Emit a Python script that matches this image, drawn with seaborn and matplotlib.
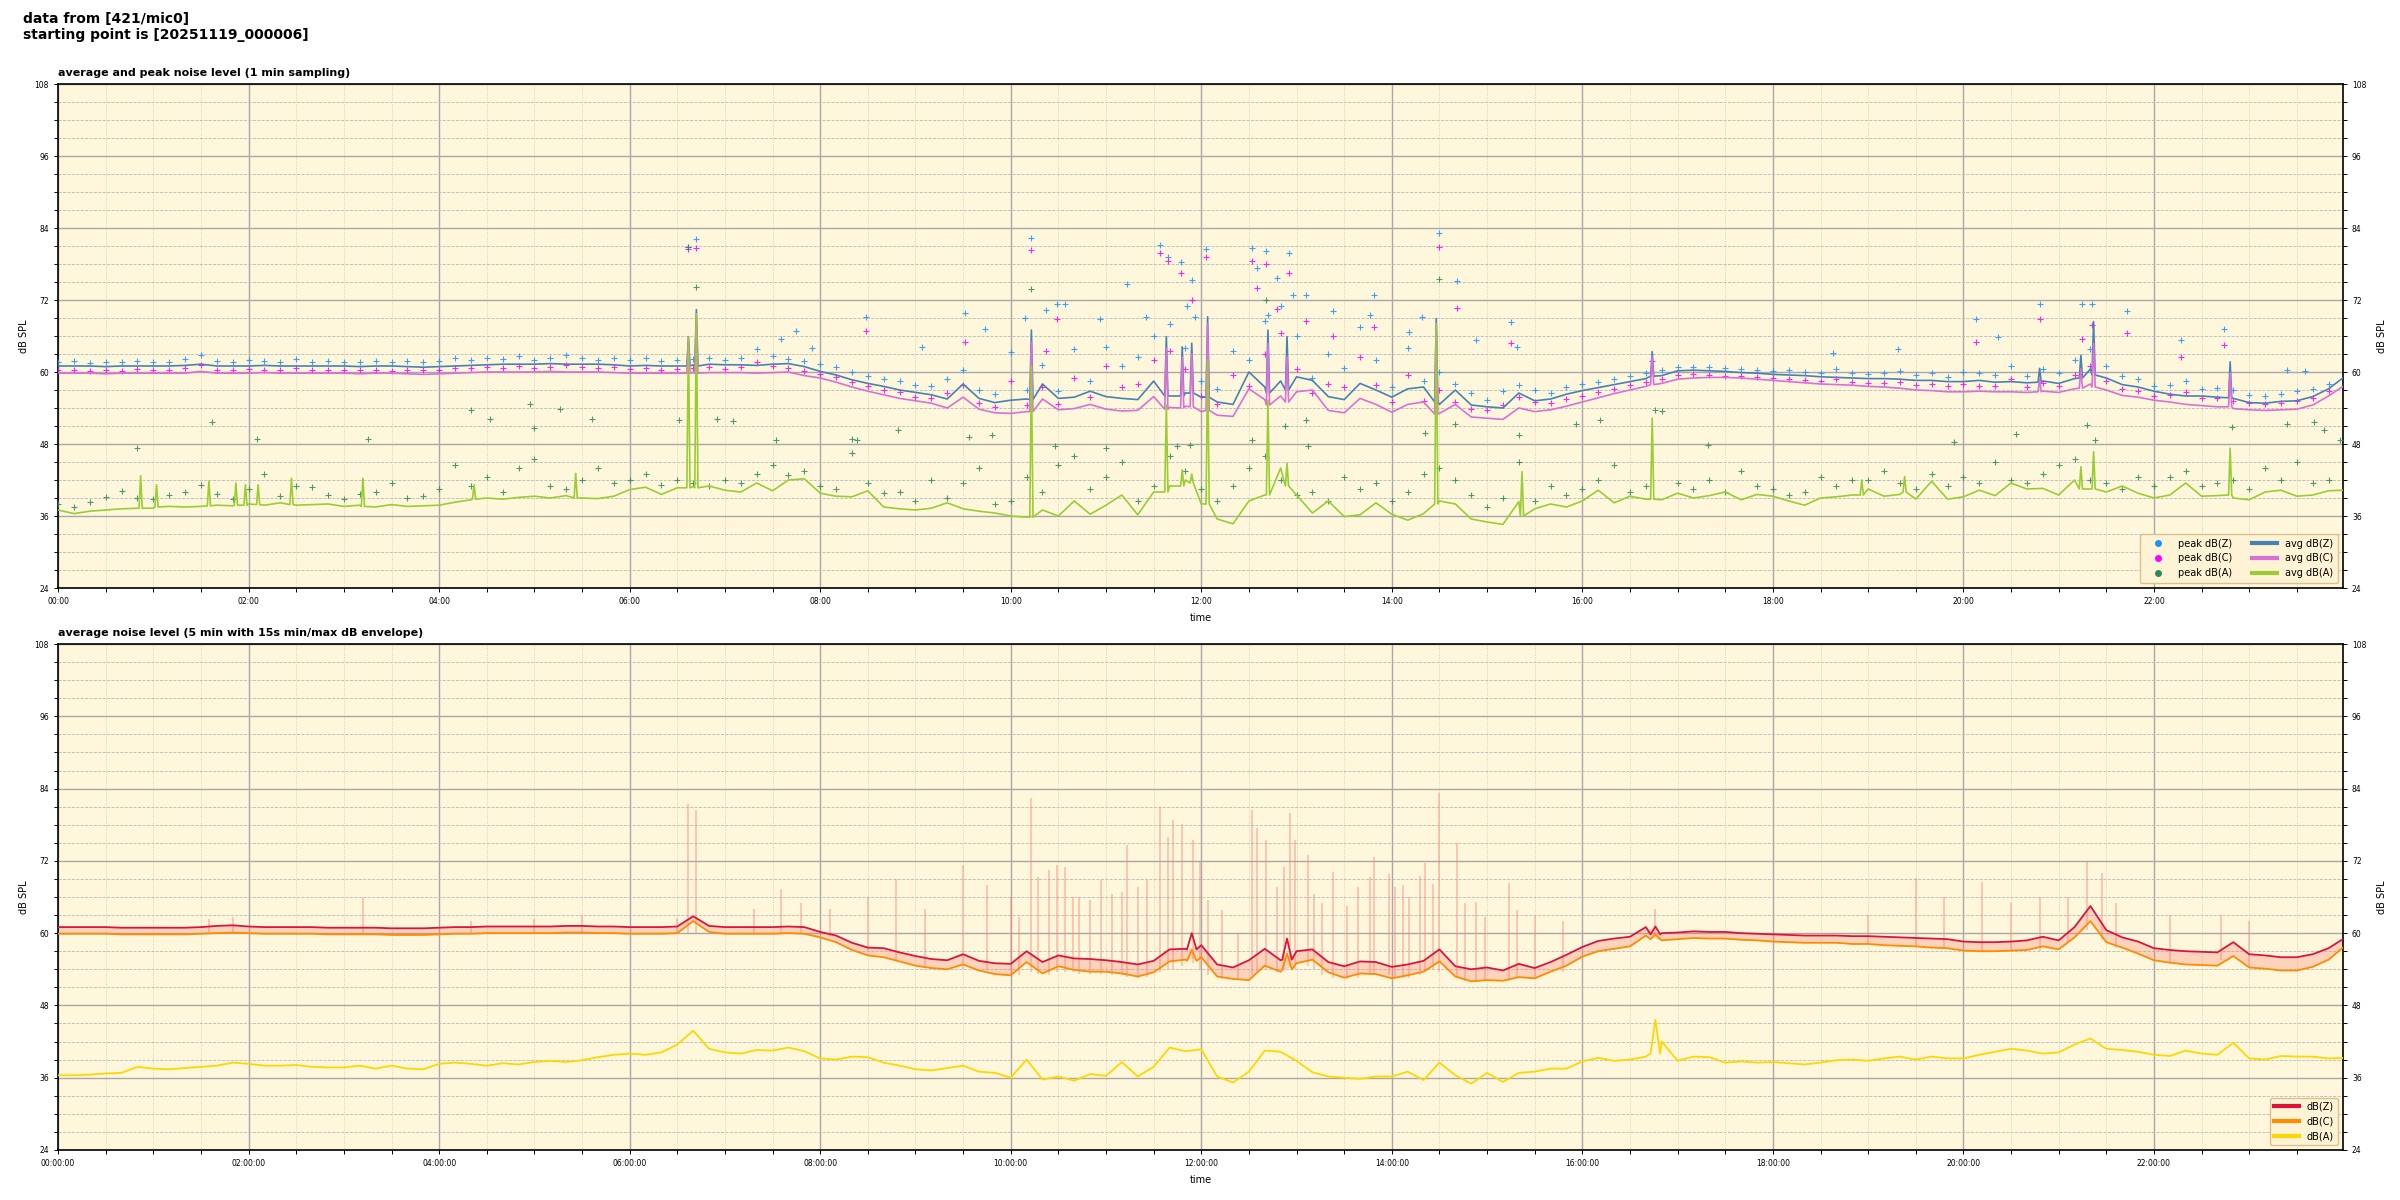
import numpy as np
import pandas as pd
import matplotlib
matplotlib.use('Agg')
import matplotlib.pyplot as plt
from matplotlib.ticker import MultipleLocator, FixedLocator, FuncFormatter
from matplotlib.lines import Line2D
from matplotlib.transforms import offset_copy
import seaborn as sns

# sampling grid: one reading every 10 minutes, one row per hour (00..23)
grid_min = np.arange(0, 1440, 10)
end_min = 1439

# ---------- top chart: 1 min averages ----------
avg_z = [
    61.0, 61.0, 61.0, 60.9, 61.0, 61.0,
    61.0, 61.0, 61.1, 61.3, 61.0, 61.0,
    61.0, 61.1, 61.0, 61.0, 61.0, 61.0,
    61.0, 60.9, 61.0, 61.0, 60.9, 60.8,
    60.9, 61.0, 61.1, 61.2, 61.3, 61.3,
    61.3, 61.4, 61.3, 61.3, 61.3, 61.2,
    61.0, 61.1, 61.0, 61.0, 61.2, 61.3,
    61.2, 61.2, 61.1, 61.3, 61.4, 60.9,
    60.1, 59.5, 58.7, 58.1, 57.6, 57.0,
    56.6, 56.2, 55.5, 58.0, 55.6, 54.9,
    55.3, 55.5, 58.0, 55.6, 55.8, 56.8,
    55.9, 55.6, 55.4, 58.5, 56.0, 56.5,
    55.8, 55.0, 54.6, 60.0, 57.5, 58.5,
    59.2, 58.6, 55.9, 55.4, 58.1, 57.0,
    55.8, 57.2, 57.5, 54.6, 57.0, 54.5,
    54.2, 54.0, 56.5, 55.2, 55.5, 56.3,
    56.9, 57.4, 57.9, 58.4, 58.9, 59.4,
    60.2, 60.3, 60.2, 60.1, 59.9, 59.8,
    59.6, 59.5, 59.4, 59.2, 59.1, 59.0,
    58.9, 58.9, 58.8, 58.6, 58.6, 58.4,
    58.4, 58.6, 58.3, 58.4, 58.2, 58.5,
    58.1, 58.9, 60.5, 59.0, 57.9, 57.5,
    56.8, 56.3, 56.0, 56.0, 55.8, 55.6,
    54.9, 54.8, 55.1, 55.2, 55.9, 57.2,
]
avg_c = [
    59.8, 59.8, 59.8, 59.7, 59.8, 59.8,
    59.8, 59.8, 59.8, 60.1, 59.8, 59.8,
    59.8, 59.9, 59.8, 59.8, 59.8, 59.8,
    59.8, 59.7, 59.8, 59.8, 59.7, 59.6,
    59.7, 59.8, 59.9, 60.0, 60.0, 60.0,
    60.0, 60.1, 60.0, 60.0, 60.0, 59.9,
    59.8, 59.8, 59.8, 59.8, 59.9, 59.9,
    59.9, 59.9, 59.8, 59.9, 60.0, 59.4,
    59.0, 58.3, 57.5, 56.8, 56.2, 55.6,
    55.2, 54.8, 54.0, 55.8, 53.8, 53.2,
    53.1, 53.4, 55.5, 53.7, 53.9, 54.6,
    53.8, 53.5, 53.6, 55.9, 54.1, 54.3,
    53.4, 52.8, 52.6, 57.2, 55.4, 56.0,
    56.7, 57.0, 53.6, 53.2, 55.6, 54.6,
    53.3, 54.6, 55.0, 53.1, 54.6, 52.5,
    52.3, 52.1, 54.0, 53.4, 53.7, 54.3,
    55.0, 55.7, 56.4, 57.0, 57.6, 58.1,
    58.8, 59.0, 59.1, 59.1, 59.0, 58.8,
    58.6, 58.4, 58.2, 58.0, 57.9, 57.8,
    57.6, 57.5, 57.3, 57.0, 56.9, 56.7,
    56.7, 56.8, 56.7, 56.7, 56.6, 56.8,
    56.6, 57.2, 58.0, 57.0, 56.1, 55.8,
    55.3, 55.0, 54.6, 54.4, 54.2, 53.9,
    53.7, 53.6, 53.7, 53.8, 54.5, 56.0,
]
avg_a = [
    37.0, 36.4, 36.8, 37.0, 37.2, 37.3,
    37.3, 37.6, 37.5, 37.6, 37.8, 37.7,
    38.0, 37.8, 38.2, 37.8, 37.9, 38.0,
    37.6, 37.8, 37.5, 37.9, 37.6, 37.7,
    37.8, 38.3, 38.7, 39.0, 38.8, 39.1,
    39.3, 39.0, 39.4, 39.0, 38.9, 39.3,
    40.4, 40.8, 39.6, 40.7, 40.9, 41.0,
    40.3, 40.0, 41.5, 40.2, 42.0, 42.2,
    39.8, 39.3, 39.2, 40.2, 37.5, 37.2,
    37.0, 37.3, 38.2, 37.2, 36.8, 36.5,
    36.0, 35.8, 37.0, 36.0, 38.5, 36.3,
    37.8, 39.5, 36.2, 40.0, 41.0, 42.0,
    38.0, 35.5, 34.7, 38.5, 39.5, 44.0,
    39.5, 36.5, 38.5, 35.9, 36.2, 38.2,
    36.3, 35.3, 36.4, 38.5, 38.0, 35.5,
    35.0, 34.6, 38.4, 37.2, 38.0, 37.5,
    38.5, 40.3, 38.2, 39.3, 38.8, 38.7,
    39.8, 39.0, 39.4, 40.0, 38.7, 39.6,
    39.3, 38.5, 37.8, 39.0, 39.2, 39.5,
    40.5, 39.3, 39.6, 38.8, 41.8, 38.8,
    39.2, 40.3, 39.4, 41.5, 40.5, 40.6,
    39.5, 42.0, 40.5, 40.0, 41.0, 39.8,
    39.0, 39.5, 41.5, 39.3, 39.4, 39.0,
    38.7, 40.0, 40.3, 39.3, 39.5, 40.2,
]
avg_last = [59.0, 57.6, 40.3]

# short bursts in the 1 min averages: (minute, level around, burst level)
spikes_z = [(397, 61.0, 65.9), (402, 61.0, 70.4), (613, 55.4, 67.0), (698, 56.0, 65.9),
            (708, 56.0, 64.2), (714, 56.5, 64.8), (724, 55.8, 69.2), (762, 56.5, 67.0),
            (774, 57.0, 65.9), (868, 55.0, 68.9), (1004, 59.3, 63.4), (1248, 58.3, 60.6),
            (1274, 59.0, 62.8), (1282, 59.5, 68.4), (1368, 55.7, 61.7)]
spikes_c = [(397, 59.8, 65.3), (402, 59.8, 69.2), (613, 53.4, 65.0), (698, 53.8, 64.0),
            (708, 54.0, 62.5), (714, 54.2, 63.0), (724, 53.6, 68.0), (762, 54.5, 64.8),
            (774, 55.0, 62.6), (868, 53.0, 68.1), (1004, 57.9, 62.6), (1248, 56.7, 58.8),
            (1274, 57.3, 60.5), (1282, 57.5, 64.8), (1368, 54.2, 59.8)]
spikes_a = [(52, 37.3, 42.7), (62, 37.5, 41.2), (95, 37.7, 41.8), (112, 37.8, 41.5),
            (118, 37.8, 41.2), (126, 37.9, 41.2), (147, 37.9, 42.3), (192, 37.6, 42.3),
            (262, 38.8, 41.2), (326, 39.0, 43.1), (397, 40.7, 65.8), (402, 40.7, 69.7),
            (613, 35.8, 61.0), (698, 40.0, 54.5), (708, 41.0, 43.7), (714, 41.5, 43.0),
            (724, 38.0, 62.0), (762, 39.5, 55.3), (774, 41.0, 44.8), (868, 38.0, 68.0),
            (922, 36.0, 43.4), (1004, 38.8, 52.3), (1136, 39.5, 42.0), (1163, 40.0, 42.6),
            (1274, 40.5, 44.2), (1282, 40.5, 46.7), (1368, 39.5, 47.3)]

# 1 min peaks
peak_z = [
    61.6, 61.8, 61.5, 61.7, 61.6, 61.9,
    61.6, 61.7, 62.2, 62.8, 61.8, 61.7,
    62.0, 61.8, 61.7, 62.1, 61.7, 61.8,
    61.6, 61.7, 61.8, 61.6, 61.8, 61.7,
    61.8, 62.3, 62.0, 62.4, 62.2, 62.6,
    62.0, 62.4, 62.8, 62.3, 62.0, 62.4,
    62.0, 62.3, 61.9, 62.0, 62.2, 62.4,
    62.0, 62.3, 63.8, 62.6, 62.1, 61.8,
    61.3, 60.9, 60.0, 59.4, 58.9, 58.5,
    57.8, 57.6, 58.9, 60.4, 57.0, 56.4,
    63.4, 57.0, 61.2, 56.8, 63.9, 58.5,
    64.2, 61.0, 62.5, 66.0, 68.0, 64.0,
    58.5, 57.2, 63.5, 62.0, 68.5, 71.0,
    66.0, 59.0, 63.0, 60.7, 67.5, 62.0,
    57.5, 64.0, 58.5, 60.0, 58.0, 56.5,
    55.3, 56.8, 57.8, 57.0, 56.5, 57.5,
    58.0, 58.3, 58.8, 59.3, 59.8, 60.3,
    60.8, 60.9, 60.8, 60.6, 60.5, 60.4,
    60.2, 60.3, 60.0, 59.9, 60.5, 59.8,
    59.7, 59.9, 60.1, 59.5, 59.9, 59.2,
    60.0, 59.8, 59.5, 61.0, 59.4, 60.5,
    59.8, 62.0, 63.8, 61.0, 59.4, 58.9,
    57.6, 57.9, 58.5, 57.1, 57.4, 57.0,
    56.2, 56.0, 56.3, 56.8, 57.1, 58.0,
]
peak_c = [
    60.3, 60.4, 60.2, 60.3, 60.2, 60.5,
    60.3, 60.4, 60.7, 61.2, 60.4, 60.3,
    60.5, 60.4, 60.3, 60.6, 60.3, 60.4,
    60.3, 60.3, 60.4, 60.2, 60.4, 60.3,
    60.4, 60.7, 60.6, 60.9, 60.7, 61.0,
    60.6, 60.9, 61.2, 60.8, 60.6, 60.9,
    60.5, 60.7, 60.4, 60.5, 60.7, 60.8,
    60.5, 60.8, 61.6, 61.0, 60.6, 60.2,
    59.7, 59.1, 58.3, 57.6, 57.0, 56.6,
    55.9, 55.6, 56.5, 57.8, 54.8, 54.2,
    58.5, 54.5, 57.5, 54.6, 59.0, 55.8,
    61.0, 57.5, 58.0, 62.0, 63.5, 60.5,
    56.0, 54.6, 59.5, 57.6, 63.0, 66.5,
    60.5, 56.5, 58.0, 57.5, 62.5, 57.8,
    55.0, 59.5, 55.2, 57.0, 55.0, 53.8,
    53.6, 54.5, 55.8, 55.0, 54.8, 55.5,
    56.0, 56.6, 57.2, 57.8, 58.4, 58.9,
    59.5, 59.6, 59.5, 59.4, 59.3, 59.1,
    59.0, 58.8, 58.6, 58.5, 58.8, 58.3,
    58.1, 58.2, 58.3, 57.8, 58.0, 57.6,
    58.0, 57.7, 57.6, 58.8, 57.5, 58.2,
    57.6, 59.5, 61.0, 58.5, 57.2, 56.8,
    56.0, 56.2, 56.6, 55.6, 55.6, 55.2,
    54.8, 54.7, 54.9, 55.2, 55.6, 56.8,
]
peak_a = [
    38.0, 37.5, 38.4, 39.2, 40.2, 39.0,
    38.8, 39.5, 40.0, 41.2, 39.6, 38.9,
    40.5, 43.0, 39.4, 41.0, 40.8, 39.5,
    38.9, 39.6, 40.0, 41.5, 39.0, 39.4,
    40.5, 44.5, 41.0, 42.5, 40.0, 44.0,
    45.5, 41.0, 40.5, 42.0, 44.0, 41.5,
    42.0, 43.0, 41.2, 42.0, 41.5, 41.0,
    42.0, 41.5, 43.0, 44.5, 42.8, 43.5,
    41.0, 40.5, 46.5, 41.5, 39.8, 40.0,
    38.5, 42.0, 39.0, 41.5, 44.0, 38.0,
    38.5, 42.5, 40.0, 44.5, 46.0, 40.5,
    42.5, 45.0, 38.5, 41.0, 46.0, 43.5,
    40.5, 38.5, 41.0, 44.0, 46.0, 42.0,
    39.5, 40.0, 38.5, 42.5, 40.5, 41.5,
    38.5, 40.0, 43.0, 44.0, 42.0, 39.5,
    37.5, 39.0, 45.0, 38.5, 41.0, 39.5,
    40.5, 42.0, 44.5, 40.0, 41.0, 53.5,
    41.5, 40.5, 42.0, 40.0, 43.5, 41.0,
    40.5, 39.5, 40.0, 42.5, 41.0, 42.0,
    42.0, 43.5, 41.5, 40.5, 43.0, 41.0,
    42.5, 41.5, 45.0, 42.0, 41.5, 43.0,
    44.5, 45.5, 42.0, 41.5, 40.5, 42.5,
    41.0, 42.5, 43.5, 41.0, 41.5, 42.0,
    40.5, 44.0, 42.0, 45.0, 41.5, 42.0,
]
# single loud peaks (minute, dB)
peak_z_out = [(397, 80.9), (402, 82.1), (455, 65.5), (465, 66.8), (475, 64.0), (509, 69.2),
              (544, 64.1), (571, 69.8), (584, 67.1), (609, 69.0), (613, 82.4), (622, 70.3),
              (629, 71.3), (634, 71.3), (656, 68.9), (673, 74.6), (685, 69.1), (694, 81.2),
              (699, 79.1), (707, 78.3), (711, 71.0), (714, 75.4), (716, 69.2), (723, 80.5),
              (752, 80.6), (755, 77.3), (761, 80.2), (762, 69.5), (768, 75.6), (775, 79.8),
              (778, 72.8), (786, 72.8), (803, 70.1), (826, 69.5), (829, 72.8), (851, 66.6),
              (859, 69.2), (870, 83.1), (881, 75.1), (893, 65.4), (915, 68.4), (919, 64.2),
              (1118, 63.1), (1159, 63.8), (1208, 68.9), (1222, 65.9), (1248, 71.4),
              (1275, 71.4), (1281, 71.4), (1303, 70.2), (1337, 65.3), (1364, 67.2),
              (1404, 60.4), (1415, 60.1)]
peak_c_out = [(397, 80.5), (402, 80.7), (509, 66.8), (571, 65.0), (613, 80.4), (622, 63.5),
              (629, 68.9), (694, 79.8), (699, 78.5), (707, 76.5), (714, 72.0), (723, 79.2),
              (752, 78.5), (755, 74.0), (761, 78.0), (768, 70.5), (775, 76.5), (786, 68.5),
              (803, 66.0), (829, 67.5), (870, 80.9), (881, 70.6), (915, 64.8), (1004, 61.8),
              (1208, 65.0), (1248, 68.9), (1275, 65.5), (1281, 67.8), (1303, 66.5),
              (1337, 62.5), (1364, 64.5)]
peak_a_out = [(50, 47.4), (97, 51.6), (125, 48.8), (195, 48.8), (260, 53.7), (272, 52.1),
              (297, 54.7), (300, 50.7), (316, 53.9), (336, 52.1), (391, 52.0), (397, 80.9),
              (402, 74.2), (415, 52.1), (425, 51.8), (452, 48.7), (500, 48.8), (503, 48.7),
              (529, 50.3), (574, 49.1), (588, 49.5), (613, 73.9), (628, 47.6), (660, 47.3),
              (705, 47.7), (713, 47.8), (752, 48.7), (761, 72.0), (773, 51.0), (786, 52.0),
              (787, 47.6), (861, 49.8), (870, 75.5), (880, 51.4), (920, 49.5), (956, 51.4),
              (971, 52.0), (1006, 53.7), (1039, 47.8), (1194, 48.3), (1233, 49.6),
              (1278, 51.2), (1283, 48.7), (1369, 50.9), (1404, 51.4), (1421, 51.7),
              (1427, 50.3), (1437, 48.7)]

# ---------- bottom chart: 5 min averages ----------
bot_z = [
    61.0, 61.0, 61.0, 61.0, 60.9, 60.9,
    60.9, 60.9, 60.9, 61.0, 61.2, 61.3,
    61.1, 61.0, 61.0, 61.0, 61.0, 60.9,
    60.9, 60.9, 60.9, 60.8, 60.8, 60.8,
    60.9, 61.0, 61.0, 61.1, 61.1, 61.1,
    61.1, 61.1, 61.2, 61.2, 61.1, 61.1,
    61.0, 61.0, 61.0, 61.1, 62.8, 61.2,
    61.0, 61.0, 61.0, 61.0, 61.1, 61.0,
    60.2, 59.6, 58.4, 57.6, 57.5, 56.8,
    56.2, 55.7, 55.5, 56.5, 55.4, 55.0,
    54.9, 57.0, 55.2, 56.3, 55.8, 55.7,
    55.5, 55.2, 54.8, 55.4, 57.3, 57.4,
    58.0, 54.8, 54.3, 55.5, 57.4, 55.5,
    57.0, 57.3, 55.2, 54.5, 55.3, 55.2,
    54.4, 54.8, 55.4, 57.3, 54.5, 54.0,
    54.3, 53.8, 54.9, 54.2, 55.2, 56.4,
    57.7, 58.7, 59.1, 59.4, 61.0, 60.0,
    60.1, 60.3, 60.2, 60.2, 60.0, 59.9,
    59.8, 59.7, 59.6, 59.6, 59.6, 59.5,
    59.5, 59.4, 59.3, 59.2, 59.1, 59.0,
    58.6, 58.5, 58.5, 58.6, 58.8, 59.4,
    58.8, 61.0, 64.5, 60.5, 59.3, 58.6,
    57.5, 57.2, 57.0, 56.9, 56.8, 58.5,
    56.5, 56.3, 56.0, 56.0, 56.5, 57.5,
]
bot_c = [
    59.9, 59.9, 59.9, 59.9, 59.8, 59.8,
    59.8, 59.8, 59.8, 59.9, 60.0, 60.1,
    60.0, 59.9, 59.9, 59.9, 59.9, 59.8,
    59.8, 59.8, 59.8, 59.7, 59.7, 59.7,
    59.8, 59.9, 59.9, 60.0, 60.0, 60.0,
    60.0, 60.0, 60.1, 60.1, 60.0, 60.0,
    59.9, 59.9, 59.9, 60.0, 62.0, 60.2,
    59.9, 59.9, 59.9, 59.9, 60.0, 59.9,
    59.3, 58.5, 57.2, 56.3, 56.0, 55.3,
    54.6, 54.2, 54.0, 54.8, 53.8, 53.2,
    53.0, 55.2, 53.3, 54.5, 53.9, 53.6,
    53.6, 53.3, 52.8, 53.5, 55.3, 55.6,
    56.0, 52.8, 52.4, 52.2, 54.6, 53.6,
    55.0, 55.6, 53.5, 52.6, 53.3, 53.2,
    52.5, 53.0, 53.6, 55.3, 52.8, 52.0,
    52.2, 52.1, 52.7, 52.5, 53.6, 54.6,
    56.1, 57.0, 57.4, 57.8, 59.6, 58.8,
    59.0, 59.2, 59.1, 59.1, 58.9, 58.8,
    58.6, 58.5, 58.4, 58.4, 58.4, 58.2,
    58.2, 58.0, 57.9, 57.8, 57.6, 57.5,
    57.1, 57.0, 57.0, 57.1, 57.2, 57.8,
    57.3, 59.3, 62.0, 58.5, 57.6, 56.6,
    55.5, 55.1, 54.8, 54.7, 54.6, 56.2,
    54.3, 54.1, 53.8, 53.8, 54.4, 55.6,
]
bot_a = [
    36.4, 36.4, 36.5, 36.7, 36.8, 37.8,
    37.5, 37.4, 37.6, 37.8, 38.0, 38.5,
    38.3, 38.0, 38.0, 38.1, 37.8, 37.7,
    37.7, 38.0, 37.5, 38.0, 37.5, 37.4,
    38.3, 38.5, 38.3, 38.0, 38.4, 38.2,
    38.6, 38.8, 38.6, 38.9, 39.4, 39.8,
    40.0, 39.8, 40.2, 41.5, 43.8, 40.8,
    40.2, 40.0, 40.6, 40.5, 41.0, 40.4,
    39.2, 39.0, 39.5, 39.4, 38.5, 38.0,
    37.4, 37.2, 37.6, 38.0, 37.0, 36.8,
    36.0, 39.0, 35.7, 36.2, 35.5, 36.6,
    36.3, 38.6, 36.2, 37.8, 41.0, 40.4,
    40.7, 36.2, 35.2, 37.0, 40.5, 40.3,
    38.8, 36.9, 36.2, 36.0, 35.8, 36.2,
    36.2, 37.0, 35.6, 38.5, 36.4, 35.0,
    36.8, 35.3, 36.8, 37.0, 37.5, 37.5,
    38.7, 39.3, 38.8, 39.0, 39.5, 42.0,
    38.8, 39.5, 39.4, 38.5, 38.7, 38.5,
    38.6, 38.4, 38.2, 38.5, 38.9, 39.0,
    38.8, 39.2, 39.5, 39.0, 39.5, 39.2,
    39.2, 39.8, 40.3, 40.8, 40.5, 40.0,
    40.2, 41.5, 42.5, 40.8, 40.6, 40.3,
    39.8, 39.6, 40.5, 40.0, 39.8, 41.8,
    39.2, 39.0, 39.6, 39.5, 39.5, 39.2,
]
bot_last = [59.0, 57.6, 39.3]
bot_spikes_z = [(714, 57.3, 60.0), (774, 55.6, 59.1), (1006, 59.8, 61.1)]
bot_spikes_c = [(714, 55.4, 57.2), (774, 54.0, 56.6), (1006, 59.0, 59.8)]
bot_spikes_a = [(1006, 40.0, 45.6)]

# 15 s min/max envelope excursions: (minute, low, high)
envelope = [
    (95, 60.0, 62.3), (110, 60.0, 62.6), (192, 59.8, 65.8), (260, 59.9, 62.0), (300, 60.0, 62.3),
    (330, 60.0, 63.0), (390, 59.8, 62.5), (397, 59.9, 81.5), (402, 59.9, 80.5), (438, 59.9, 64.0),
    (455, 59.9, 67.3), (468, 59.9, 65.0), (486, 59.5, 64.0), (510, 57.0, 66.0), (528, 55.5, 69.0),
    (546, 54.2, 64.0), (570, 54.0, 71.3), (585, 53.8, 68.0), (600, 53.0, 66.0), (605, 53.0, 62.7),
    (613, 53.5, 82.4), (617, 53.2, 69.4), (624, 53.0, 70.5), (629, 53.5, 71.3), (634, 53.5, 71.0),
    (639, 53.5, 66.0), (643, 53.2, 66.0), (650, 53.2, 65.5), (657, 53.2, 68.8), (664, 53.0, 66.5),
    (670, 53.0, 66.8), (673, 52.8, 74.6), (680, 52.6, 67.7), (686, 52.8, 68.8), (694, 53.5, 81.0),
    (699, 54.0, 76.0), (702, 54.0, 78.8), (708, 54.5, 78.2), (715, 55.0, 75.5), (719, 54.0, 72.0),
    (724, 53.0, 65.5), (733, 52.4, 63.8), (743, 52.2, 60.0), (752, 53.0, 80.4), (755, 53.5, 77.4),
    (761, 54.0, 75.5), (768, 53.5, 67.7), (772, 54.0, 71.0), (776, 54.5, 79.9), (779, 54.0, 75.5),
    (787, 54.5, 73.0), (791, 54.0, 66.5), (796, 53.0, 65.0), (803, 52.5, 70.2), (812, 52.4, 64.5),
    (819, 52.5, 67.7), (826, 53.0, 69.4), (829, 53.0, 72.7), (838, 53.0, 69.9), (842, 52.5, 67.7),
    (847, 52.5, 68.0), (851, 52.5, 66.0), (858, 53.0, 69.5), (861, 53.5, 71.6), (866, 54.0, 68.2),
    (870, 53.5, 83.2), (881, 52.5, 74.9), (886, 52.0, 65.0), (893, 52.0, 65.2), (899, 52.0, 62.7),
    (914, 52.0, 68.3), (919, 52.5, 63.8), (930, 52.5, 63.0), (948, 53.5, 62.0), (1006, 59.5, 64.0),
    (1140, 58.2, 63.0), (1170, 57.9, 69.1), (1188, 57.6, 66.0), (1212, 57.0, 68.5), (1230, 57.0, 65.0),
    (1248, 57.0, 66.0), (1266, 58.5, 66.0), (1278, 60.5, 72.0), (1287, 59.0, 70.0), (1296, 57.5, 65.0),
    (1330, 55.0, 63.0), (1362, 55.5, 63.0), (1380, 54.3, 62.0),
]


def series(values, last, spikes, half_width):
    t = list(grid_min) + [end_min]
    v = list(values) + [last]
    for ts, base, top in spikes:
        t += [ts - half_width, ts, ts + half_width]
        v += [base, top, base]
    df = pd.DataFrame({'hour': np.array(t) / 60.0, 'db': v})
    return df.sort_values('hour')


def peaks(values, extra):
    t = list(grid_min) + [p[0] for p in extra]
    v = list(values) + [p[1] for p in extra]
    return pd.DataFrame({'hour': np.array(t) / 60.0, 'db': v})


def hm(x, pos):
    m = int(round(x * 60))
    return f'{m // 60:02d}:{m % 60:02d}'


def hms(x, pos):
    return hm(x, pos) + ':00'


def style_axes(ax, fmt, title):
    ax.set_facecolor('#fff7dc')
    ax.set_xlim(0, end_min / 60.0)
    ax.set_ylim(24, 108)
    ax.xaxis.set_major_locator(FixedLocator(np.arange(0, 24, 2)))
    ax.xaxis.set_minor_locator(FixedLocator(np.arange(0, 24, 0.5)))
    ax.xaxis.set_major_formatter(FuncFormatter(fmt))
    ax.yaxis.set_major_locator(FixedLocator(np.arange(24, 109, 12)))
    ax.yaxis.set_minor_locator(FixedLocator(np.arange(24, 109, 3)))
    ax.set_axisbelow(True)
    ax.xaxis.grid(True, which='major', color='#a8a8a8', lw=1.0, ls='-')
    ax.yaxis.grid(True, which='major', color='#a8a8a8', lw=1.0, ls='-')
    ax.xaxis.grid(True, which='minor', color='#cfc6b0', lw=0.6, ls=':')
    ax.yaxis.grid(True, which='minor', color='#b8b8b8', lw=0.6, ls='--')
    ax.tick_params(which='both', labelsize=5.5, length=3, width=0.7, direction='out')
    ax.tick_params(axis='y', which='both', right=True, labelright=True)
    for s in ax.spines.values():
        s.set_linewidth(1.2)
        s.set_color('black')
    ax.set_xlabel('time', fontsize=7, labelpad=5)
    ax.set_ylabel('dB SPL', fontsize=7)
    # right hand copy of the y label
    ax.text(1.0, 0.5, 'dB SPL', fontsize=7, rotation=90, ha='center', va='center',
            transform=offset_copy(ax.transAxes, fig=ax.figure, x=39, y=0, units='dots'))
    ax.set_title(title, loc='left', fontsize=8, fontweight='bold', pad=6)


fig = plt.figure(figsize=(24, 12), dpi=100)
ax1 = fig.add_axes([0.0242, 0.51, 0.952, 0.42])
ax2 = fig.add_axes([0.0242, 0.0417, 0.952, 0.4216])

fig.text(0.0096, 0.99, 'data from [421/mic0]\nstarting point is [20251119_000006]',
         fontsize=10, fontweight='bold', va='top', ha='left')

# top: peaks as crosses, averages as lines
peak_sets = [(peaks(peak_z, peak_z_out), 'dodgerblue'),
             (peaks(peak_c, peak_c_out), 'magenta'),
             (peaks(peak_a, peak_a_out), 'seagreen')]
for df, col in peak_sets:
    sns.scatterplot(data=df, x='hour', y='db', ax=ax1, marker='+', s=14, color=col,
                    linewidth=0.8, alpha=0.85, zorder=3, legend=False)

top_lines = [(series(avg_z, avg_last[0], spikes_z, 1), 'steelblue'),
             (series(avg_c, avg_last[1], spikes_c, 1), 'orchid'),
             (series(avg_a, avg_last[2], spikes_a, 1), 'yellowgreen')]
for df, col in top_lines:
    sns.lineplot(data=df, x='hour', y='db', ax=ax1, color=col, lw=1.2, estimator=None,
                 sort=False, zorder=4, legend=False)

style_axes(ax1, hm, 'average and peak noise level (1 min sampling)')
handles = [Line2D([], [], ls='', marker='o', ms=4, color='dodgerblue'),
           Line2D([], [], ls='', marker='o', ms=4, color='magenta'),
           Line2D([], [], ls='', marker='o', ms=4, color='seagreen'),
           Line2D([], [], lw=3, color='steelblue'),
           Line2D([], [], lw=3, color='orchid'),
           Line2D([], [], lw=3, color='yellowgreen')]
labels = ['peak dB(Z)', 'peak dB(C)', 'peak dB(A)', 'avg dB(Z)', 'avg dB(C)', 'avg dB(A)']
ax1.legend(handles, labels, loc='lower right', ncol=2, fontsize=7, frameon=True,
           facecolor='#fff3d6', edgecolor='#dcc08c', framealpha=1, borderpad=0.5,
           handlelength=2.6, columnspacing=2.0)

# bottom: 5 min averages with min/max envelope
env_t = np.array([e[0] for e in envelope]) / 60.0
ax2.vlines(env_t, [e[1] for e in envelope], [e[2] for e in envelope],
           color='salmon', alpha=0.45, lw=1.3, zorder=2)
band_t = np.append(grid_min, end_min) / 60.0
ax2.fill_between(band_t, bot_c + [bot_last[1]], bot_z + [bot_last[0]],
                 color='salmon', alpha=0.3, lw=0, zorder=2)

bottom_lines = [(series(bot_z, bot_last[0], bot_spikes_z, 3), 'crimson'),
                (series(bot_c, bot_last[1], bot_spikes_c, 3), 'darkorange'),
                (series(bot_a, bot_last[2], bot_spikes_a, 3), 'gold')]
for df, col in bottom_lines:
    sns.lineplot(data=df, x='hour', y='db', ax=ax2, color=col, lw=1.3, estimator=None,
                 sort=False, zorder=4, legend=False)

style_axes(ax2, hms, 'average noise level (5 min with 15s min/max dB envelope)')
h2 = [Line2D([], [], lw=3, color=c) for c in ['crimson', 'darkorange', 'gold']]
ax2.legend(h2, ['dB(Z)', 'dB(C)', 'dB(A)'], loc='lower right', fontsize=7, frameon=True,
           facecolor='#fff3d6', edgecolor='#dcc08c', framealpha=1, handlelength=2.6)

fig.savefig('out.png', dpi=100)
plt.close(fig)
